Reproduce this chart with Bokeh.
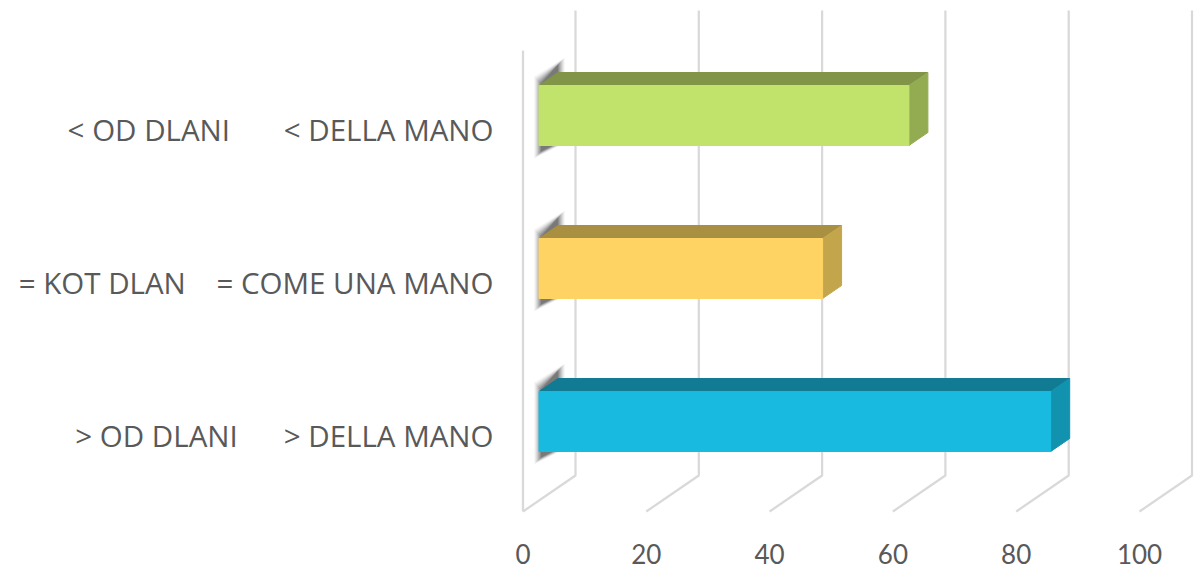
from bokeh.plotting import figure
from bokeh.models import Range1d, FixedTicker
from bokeh.embed import file_html
from bokeh.resources import INLINE

NB = "\u00a0"
left_labels = ["> OD DLANI", "= KOT DLAN", "< OD DLANI"]
right_labels = ["> DELLA MANO", "= COME UNA MANO", "< DELLA MANO"]
gaps = [6, 4, 7]
values = [83, 46, 60]
face_colors = ["#18bbdf", "#fed363", "#c1e36b"]
top_colors = ["#107b92", "#a98f41", "#829447"]
side_colors = ["#1192ae", "#c3a64b", "#94ac51"]
x_ticks = [0, 20, 40, 60, 80, 100]

# layout in screen pixels of the page
W, H = 1200, 575
FRAME_L, FRAME_R, FRAME_T, FRAME_B = 505, 1196, 8, 519
X0, XS = 522.5, 6.165     # value 0 on the front plane, px per value unit
Y0, YS = 434.5, 153.0     # first category on the front plane, px per category

def ux(px):
    return px / XS

def uy(px):
    return px / YS

p = figure(width=W, height=H, output_backend="svg", toolbar_location=None,
           x_range=Range1d((FRAME_L - X0) / XS, (FRAME_R - X0) / XS),
           y_range=Range1d((Y0 - FRAME_B) / YS, (Y0 - FRAME_T) / YS),
           min_border_left=FRAME_L, min_border_right=W - FRAME_R,
           min_border_top=FRAME_T, min_border_bottom=H - FRAME_B)
p.outline_line_color = None
p.grid.visible = False
p.background_fill_color = "#ffffff"

# front-bottom y level and back wall offsets
FLOOR_Y = (Y0 - 511) / YS
WALL_DX, WALL_DY = ux(52.5), uy(36)
WALL_TOP = (Y0 - 10) / YS
GRID = "#d9d9d9"
for t in x_ticks:
    p.line([t, t + WALL_DX, t + WALL_DX], [FLOOR_Y, FLOOR_Y + WALL_DY, WALL_TOP],
           line_color=GRID, line_width=2.25)
p.line([0, 0], [FLOOR_Y, (Y0 - 50) / YS], line_color=GRID, line_width=2.25)

# bars: oblique boxes
BAR_DX, BAR_DY = ux(16), uy(13.5)     # front face offset from the front plane
DEPTH_X, DEPTH_Y = ux(19), uy(13)     # box depth
HALF = uy(30)

for i, v in enumerate(values):
    xl, xr = BAR_DX, v + BAR_DX
    yb, yt = i + BAR_DY - HALF, i + BAR_DY + HALF
    # blurred shadow behind the box
    for g, a in [(4, 0.04), (3, 0.06), (2, 0.08), (1, 0.1), (0, 0.12), (-1, 0.15), (-2, 0.18), (-3, 0.22)]:
        p.patch([xl + ux(-1 - g), xl + ux(-1 - g), xl + ux(22 + g), xl + ux(22 + g), xl + ux(17 + g)],
                [yb - uy(9 + g), yt + uy(5 + g), yt + uy(24 + g), yt + uy(10), yb],
                fill_color="#333333", fill_alpha=a, line_color=None)
    # top
    p.patch([xl, xr, xr + DEPTH_X, xl + DEPTH_X], [yt, yt, yt + DEPTH_Y, yt + DEPTH_Y],
            fill_color=top_colors[i], line_color=top_colors[i], line_width=1, line_join="round")
    # side
    p.patch([xr, xr + DEPTH_X, xr + DEPTH_X, xr], [yb, yb + DEPTH_Y, yt + DEPTH_Y, yt],
            fill_color=side_colors[i], line_color=side_colors[i], line_width=1, line_join="round")
    # front
    p.patch([xl, xr, xr, xl], [yb, yb, yt, yt],
            fill_color=face_colors[i], line_color=face_colors[i], line_width=1, line_join="round")

FONT = "Open Sans"
ax = p.xaxis[0]
ax.ticker = FixedTicker(ticks=x_ticks)
ax.axis_line_color = None
ax.major_tick_line_color = None
ax.minor_tick_line_color = None
ax.major_label_text_font = "Lato"
ax.major_label_text_font_size = "26px"
ax.major_label_text_color = "#595959"
ax.major_label_standoff = 18

ay = p.yaxis[0]
ay.ticker = FixedTicker(ticks=[0, 1, 2])
ay.major_label_overrides = {i: left_labels[i] + NB * gaps[i] + right_labels[i] for i in range(3)}
ay.axis_line_color = None
ay.major_tick_line_color = None
ay.minor_tick_line_color = None
ay.major_label_text_font = FONT
ay.major_label_text_font_size = "29.5px"
ay.major_label_text_color = "#595959"
ay.major_label_standoff = 6

open("out.html", "w").write(file_html(p, INLINE))
